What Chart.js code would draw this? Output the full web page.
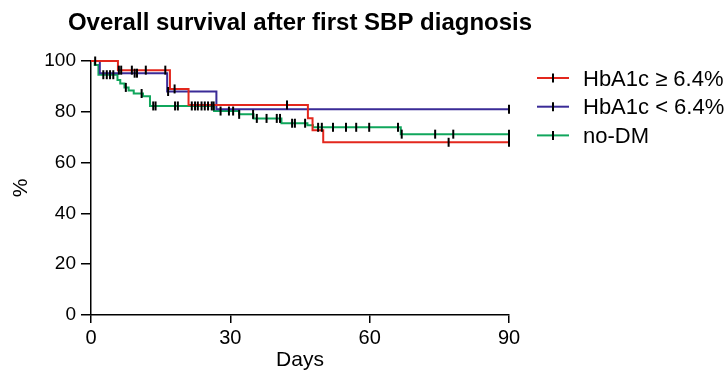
<!DOCTYPE html>
<html><head><meta charset="utf-8">
<script src="https://cdn.jsdelivr.net/npm/chart.js@4/dist/chart.umd.min.js"></script>
<style>html,body{margin:0;padding:0;background:#fff}#wrap{width:728px;height:373px;position:relative}</style>
</head><body><div id="wrap"><canvas id="c" width="728" height="373"></canvas></div>
<script>
const titleText = 'Overall survival after first SBP diagnosis';
const seriesNames = ['HbA1c \u2265 6.4%', 'HbA1c < 6.4%', 'no-DM'];
const seriesColors = ['#e3271d', '#3a2b97', '#10a65c'];
const xTicks = [0, 30, 60, 90];
const yTicks = [0, 20, 40, 60, 80, 100];

const redDays = [0, 5.8, 17, 21, 46.7, 47.7, 50, 90];
const redSurv = [100, 96.4, 89, 82.7, 77.5, 72.7, 68, 68];
const blueDays = [0, 1.9, 16.4, 27, 90];
const blueSurv = [100, 95.2, 88, 81, 81];
const greenDays = [0, 0.8, 1.6, 5.7, 6.3, 7.2, 8.1, 9.2, 11.2, 12.7, 26.5, 31.9, 35, 41, 46.6, 47.8, 66.7, 90];
const greenSurv = [100, 98.4, 94.6, 92.5, 91.1, 89.6, 88.4, 87.2, 86.1, 82.3, 80.3, 79, 77.4, 75.5, 74.7, 73.9, 71.2, 71.2];

const redCensor = [0.9, 6, 6.5, 8.8, 11.8, 16, 18, 42.2, 77, 90];
const blueCensor = [9.4, 9.9, 16.6, 90];
const greenCensor = [2.65, 3.4, 4.1, 4.8, 7.5, 10.9, 13.4, 13.9, 18.1, 18.7, 21.7, 22.4, 23, 23.8, 24.5, 25.2, 26, 26.4,
  27.9, 29.7, 30.6, 31.9, 34.9, 35.7, 37.8, 40, 40.7, 43.3, 43.9, 46.1, 48.9, 49.7, 52.1, 54.9, 57.1, 59.9, 66.1, 66.9, 74.1, 78, 90];

function survAt(days, surv, t) {
  let v = surv[0];
  for (let i = 0; i < days.length; i++) { if (days[i] <= t) v = surv[i]; }
  return v;
}
const FONT = '"Liberation Sans", Arial, Helvetica, sans-serif';
function lineDs(i, days, surv) {
  return { type: 'line', label: seriesNames[i], data: days.map((d, k) => ({ x: d, y: surv[k] })),
    borderColor: seriesColors[i], backgroundColor: seriesColors[i], borderWidth: 2, stepped: true,
    pointRadius: 0, pointHoverRadius: 0, fill: false, order: 2 + i, clip: false };
}
function censorDs(i, times, days, surv) {
  return { type: 'scatter', label: seriesNames[i] + ' censored', data: times.map(t => ({ x: t, y: survAt(days, surv, t) })),
    pointStyle: 'line', rotation: 90, radius: 4.5, hoverRadius: 4.5, borderColor: '#000', backgroundColor: '#000',
    borderWidth: 2, order: 1, clip: false };
}
const decor = {
  id: 'decor',
  afterDraw(chart) {
    const ctx = chart.ctx, ca = chart.chartArea;
    ctx.save();
    ctx.fillStyle = '#000';
    ctx.font = 'bold 24px ' + FONT;
    ctx.textAlign = 'center';
    ctx.textBaseline = 'alphabetic';
    ctx.fillText(titleText, (ca.left + ca.right) / 2, 30);
    const x0 = ca.right + 28;
    seriesNames.forEach((n, i) => {
      const y = ca.top + 17 + i * 28.7;
      ctx.lineWidth = 2;
      ctx.strokeStyle = seriesColors[i];
      ctx.beginPath(); ctx.moveTo(x0, y); ctx.lineTo(x0 + 32, y); ctx.stroke();
      ctx.strokeStyle = '#000';
      ctx.beginPath(); ctx.moveTo(x0 + 16, y - 4.5); ctx.lineTo(x0 + 16, y + 4.5); ctx.stroke();
      ctx.fillStyle = '#000';
      ctx.font = '22px ' + FONT;
      ctx.textAlign = 'left';
      ctx.textBaseline = 'middle';
      ctx.fillText(n, x0 + 46, y + 1.5);
    });
    ctx.restore();
  }
};
new Chart(document.getElementById('c'), {
  data: { datasets: [
    lineDs(0, redDays, redSurv), lineDs(1, blueDays, blueSurv), lineDs(2, greenDays, greenSurv),
    censorDs(0, redCensor, redDays, redSurv), censorDs(1, blueCensor, blueDays, blueSurv), censorDs(2, greenCensor, greenDays, greenSurv)
  ] },
  options: {
    responsive: false, animation: false, devicePixelRatio: 1,
    layout: { padding: { top: 61, right: 219, left: 0, bottom: 0 } },
    plugins: { legend: { display: false }, title: { display: false }, tooltip: { enabled: false } },
    scales: {
      x: { type: 'linear', min: 0, max: 90, afterBuildTicks: s => { s.ticks = xTicks.map(v => ({ value: v })); },
        afterFit: s => { s.height = 58; },
        border: { color: '#000', width: 1.5 },
        grid: { drawOnChartArea: false, drawTicks: true, tickLength: 8, color: '#000', lineWidth: 1.5 },
        ticks: { color: '#000', font: { family: FONT, size: 20 }, padding: 3, maxRotation: 0 },
        title: { display: true, text: 'Days', color: '#000', font: { family: FONT, size: 21 }, padding: { top: 0, bottom: 0 } } },
      y: { type: 'linear', min: 0, max: 100, afterBuildTicks: s => { s.ticks = yTicks.map(v => ({ value: v })); },
        afterFit: s => { s.width = 91; },
        border: { color: '#000', width: 1.5 },
        grid: { drawOnChartArea: false, drawTicks: true, tickLength: 10, color: '#000', lineWidth: 1.5 },
        ticks: { color: '#000', font: { family: FONT, size: 19 }, padding: 5 },
        title: { display: true, text: '%', color: '#000', font: { family: FONT, size: 21 }, padding: { top: 9, bottom: 0 } } }
    }
  },
  plugins: [decor]
});
</script></body></html>
